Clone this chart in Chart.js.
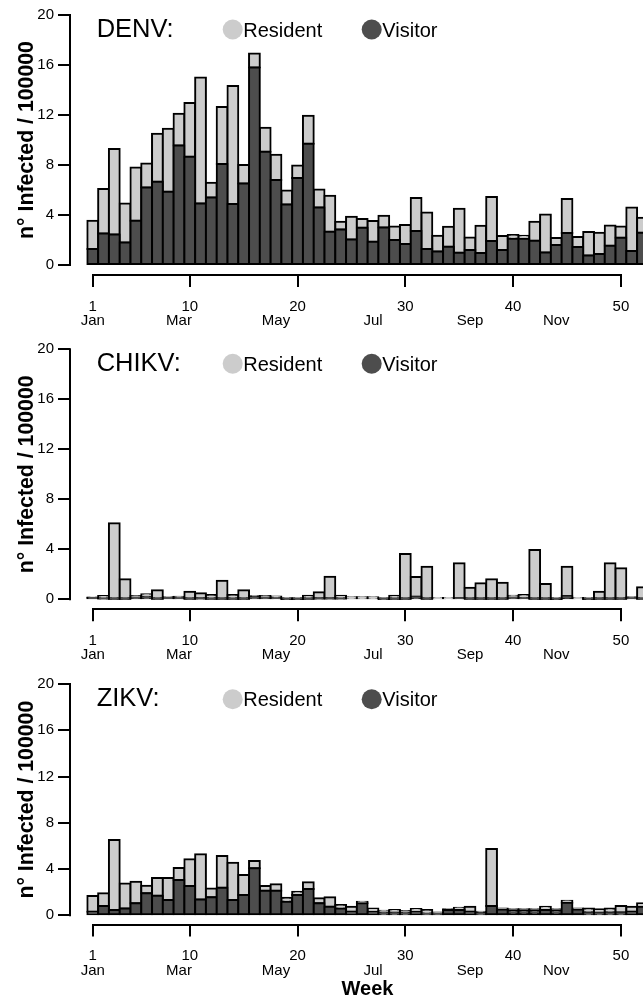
<!DOCTYPE html>
<html><head><meta charset="utf-8">
<script src="https://cdn.jsdelivr.net/npm/chart.js@4/dist/chart.umd.min.js"></script>
<style>
html,body{margin:0;padding:0;background:#fff;overflow:hidden;width:643px;height:1001px;}
.panel{position:absolute;left:0;}
canvas{display:block;}
</style></head><body>
<div class="panel" style="top:0px"><canvas id="c0" width="665" height="334"></canvas></div>
<div class="panel" style="top:334px"><canvas id="c1" width="665" height="334"></canvas></div>
<div class="panel" style="top:668px"><canvas id="c2" width="665" height="333"></canvas></div>
<script>
// ---- data ----
const weeks = [1,2,3,4,5,6,7,8,9,10,11,12,13,14,15,16,17,18,19,20,21,22,23,24,25,26,
               27,28,29,30,31,32,33,34,35,36,37,38,39,40,41,42,43,44,45,46,47,48,49,50,51,52];
const xTickWeeks = [1,10,20,30,40,50];
const monthWeeks = [1,9,18,27,36,44];
const monthLabels = ['Jan','Mar','May','Jul','Sep','Nov'];
const yTicks = [0,4,8,12,16,20];

const denvVisitor = [1.28,2.53,2.45,1.81,3.55,6.21,6.67,5.87,9.57,8.67,4.93,5.41,8.08,4.88,6.53,15.81,9.07,6.8,4.85,6.96,9.71,4.61,2.67,2.85,2.05,2.99,
                     1.87,3.01,2.0,1.68,2.72,1.28,1.09,1.47,0.99,1.2,0.96,1.92,1.2,2.11,2.11,1.95,1.01,1.6,2.56,1.44,0.77,0.88,1.55,2.19,1.12,2.59];
const denvResident = [2.27,3.55,6.83,3.12,4.26,1.92,3.84,5.04,2.54,4.29,10.08,1.18,4.56,9.44,1.47,1.12,1.92,2.03,1.12,1.01,2.24,1.44,2.88,0.62,1.82,0.69,
                      1.65,0.94,1.09,1.52,2.64,2.93,1.26,1.6,3.52,1.01,2.19,3.52,1.12,0.29,0.24,1.52,3.04,0.56,2.72,0.8,1.87,1.71,1.62,0.9,3.49,1.2];

const chikvVisitor = [0.12,0.06,0.05,0.04,0.15,0.2,0.04,0.12,0.1,0.05,0.06,0.05,0.05,0.05,0.05,0.18,0.15,0.1,0.03,0.03,0.05,0.06,0.06,0.06,0.08,0.08,
                      0.08,0.02,0.05,0.05,0.2,0.05,0.08,0.08,0.1,0.05,0.05,0.05,0.05,0.15,0.1,0.05,0.05,0.03,0.24,0.08,0.03,0.05,0.05,0.05,0.1,0.05];
const chikvResident = [0.03,0.2,6.03,1.56,0.11,0.2,0.68,0.07,0.1,0.56,0.42,0.3,1.44,0.3,0.67,0.08,0.11,0.12,0.02,0.02,0.24,0.5,1.75,0.23,0.08,0.08,
                       0.08,0,0.24,3.58,1.58,2.56,0.02,0.02,2.78,0.88,1.23,1.55,1.28,0.14,0.24,3.89,1.17,0.02,2.37,0.02,0.02,0.56,2.83,2.43,0.06,0.91];

const zikvVisitor = [0.31,0.8,0.46,0.6,1.04,1.9,1.7,1.32,3.05,2.53,1.38,1.56,2.39,1.32,1.75,4.06,2.13,2.13,1.18,1.75,2.27,1.04,0.75,0.6,0.31,1.05,
                     0.31,0.25,0.25,0.25,0.31,0.17,0.17,0.46,0.46,0.31,0.2,0.8,0.5,0.45,0.45,0.45,0.46,0.45,1.09,0.5,0.25,0.25,0.25,0.25,0.31,0.75];
const zikvResident = [1.36,1.1,6.05,2.16,1.86,0.66,1.52,1.9,1.04,2.31,3.89,0.77,2.74,3.23,1.73,0.63,0.4,0.55,0.34,0.29,0.58,0.43,0.81,0.29,0.44,0.13,
                      0.29,0.15,0.21,0.12,0.24,0.29,0.08,0.06,0.2,0.44,0.11,4.93,0.1,0.07,0.07,0.07,0.29,0.07,0.17,0.1,0.35,0.27,0.35,0.55,0.44,0.29];

const residentColor = '#cccccc';
const visitorColor = '#4d4d4d';
const FONT = "'Liberation Sans', Arial, Helvetica, sans-serif";
Chart.defaults.font.family = FONT;
Chart.defaults.color = '#000';

const X_MIN = -1.11, X_MAX = 54.09;

const decor = {
  id: 'decor',
  afterDraw(chart, args, o) {
    const {ctx, chartArea, scales} = chart;
    const x = scales.x, y = scales.y;
    ctx.save();
    ctx.strokeStyle = '#000';
    ctx.lineWidth = 2;
    ctx.lineCap = 'square';
    ctx.beginPath();
    const yb = Math.round(chartArea.bottom);
    ctx.moveTo(Math.round(x.getPixelForValue(xTickWeeks[0])), yb);
    ctx.lineTo(Math.round(x.getPixelForValue(xTickWeeks[xTickWeeks.length-1])), yb);
    const xl = Math.round(chartArea.left);
    ctx.moveTo(xl, y.getPixelForValue(yTicks[0]));
    ctx.lineTo(xl, y.getPixelForValue(yTicks[yTicks.length-1]));
    ctx.stroke();
    // panel title
    const base = chartArea.top + 31.7;
    ctx.fillStyle = '#000';
    ctx.textBaseline = 'alphabetic';
    ctx.textAlign = 'left';
    ctx.font = '25.5px ' + FONT;
    ctx.fillText(o.name + ':', 96.7, base);
    // legend
    const cy = chartArea.top + 24.5;
    const items = [['Resident', residentColor, 232.7], ['Visitor', visitorColor, 371.7]];
    ctx.font = '20px ' + FONT;
    for (const [txt, col, cx] of items) {
      ctx.fillStyle = col;
      ctx.beginPath(); ctx.arc(cx, cy, 10, 0, Math.PI*2); ctx.fill();
      ctx.fillStyle = '#000';
      ctx.fillText(txt, cx + 10.6, base);
    }
    ctx.restore();
  }
};

function makeChart(id, name, visitor, resident, padTop, x2Height, showWeek) {
  const ds = (label, data, color) => ({
    label, data, backgroundColor: color, borderColor: '#000', borderWidth: 2, inflateAmount: 1,
    borderSkipped: false, barPercentage: 1, categoryPercentage: 1
  });
  return new Chart(document.getElementById(id), {
    type: 'bar',
    data: { labels: weeks, datasets: [ds('Visitor', visitor, visitorColor), ds('Resident', resident, residentColor)] },
    options: {
      responsive: false, animation: false, devicePixelRatio: 1,
      layout: { padding: { top: padTop, left: 0, right: 0, bottom: 0 } },
      plugins: { legend: { display: false }, tooltip: { enabled: false }, decor: { name } },
      scales: {
        x: {
          type: 'linear', position: 'bottom', min: X_MIN, max: X_MAX, stacked: true, offset: false, weight: 0,
          afterBuildTicks: s => { s.ticks = xTickWeeks.map(v => ({ value: v })); },
          ticks: { autoSkip: false, maxRotation: 0, padding: 10.5, font: { size: 15 }, color: '#000',
                   callback: v => String(v) },
          grid: { offset: false, drawOnChartArea: false, drawTicks: true, tickLength: 12, color: '#000', lineWidth: 2 },
          border: { display: false },
          afterFit: s => { s.height = 37; s.paddingLeft = 0; s.paddingRight = 0; }
        },
        x2: {
          type: 'linear', position: 'bottom', min: X_MIN, max: X_MAX, offset: false, weight: 1,
          afterBuildTicks: s => { s.ticks = monthWeeks.map(v => ({ value: v })); },
          ticks: { autoSkip: false, maxRotation: 0, padding: 0, font: { size: 15 }, color: '#000',
                   callback: v => monthLabels[monthWeeks.indexOf(v)] },
          grid: { display: false, drawTicks: false, offset: false },
          border: { display: false },
          title: { display: showWeek, text: 'Week', font: { size: 20, weight: 'bold' }, color: '#000', padding: { top: 0, bottom: 0 } },
          afterFit: s => { s.height = x2Height; s.paddingLeft = 0; s.paddingRight = 0; }
        },
        y: {
          type: 'linear', min: -0.8, max: 20.8, stacked: true,
          afterBuildTicks: s => { s.ticks = yTicks.map(v => ({ value: v })); },
          ticks: { padding: 4, font: { size: 15 }, color: '#000', callback: v => String(v) },
          grid: { drawOnChartArea: false, drawTicks: true, tickLength: 12, color: '#000', lineWidth: 2 },
          border: { display: false },
          title: { display: true, text: 'n° Infected / 100000', font: { size: 21.3, weight: 'bold' }, color: '#000',
                   padding: { top: 14.2, bottom: 0 } },
          afterFit: s => { s.width = 70; s.paddingTop = 0; s.paddingBottom = 0; }
        }
      }
    },
    plugins: [decor]
  });
}

makeChart('c0', 'DENV', denvVisitor, denvResident, 5, 22, false);
makeChart('c1', 'CHIKV', chikvVisitor, chikvResident, 5.3, 21.7, false);
makeChart('c2', 'ZIKV', zikvVisitor, zikvResident, 6.7, 39.4, true);
</script>
</body></html>
